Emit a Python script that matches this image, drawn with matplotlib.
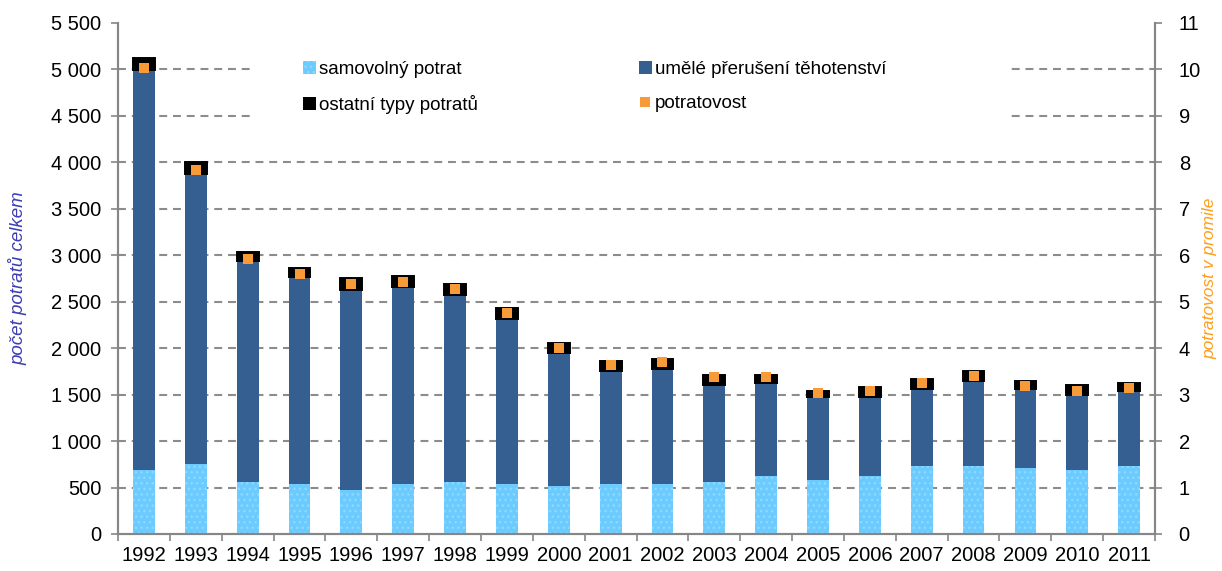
import matplotlib.pyplot as plt
from matplotlib.lines import Line2D
from matplotlib.patches import Patch, Rectangle
from matplotlib.ticker import FuncFormatter, MultipleLocator

plt.rcParams['font.family'] = ['Liberation Sans', 'DejaVu Sans']

years = [str(y) for y in range(1992, 2012)]
samovolny = [685, 749, 556, 535, 471, 535, 556, 535, 514, 535,
             535, 556, 621, 578, 621, 728, 728, 706, 685, 728]
umele = [4304, 3121, 2376, 2226, 2158, 2119, 2012, 1776, 1433, 1220,
         1238, 1049, 1005, 899, 856, 834, 920, 856, 813, 813]
ostatni = [126, 127, 104, 103, 128, 125, 125, 121, 104, 103,
           107, 104, 86, 61, 103, 104, 104, 83, 104, 82]
potratovost = [10.02, 7.82, 5.92, 5.60, 5.37, 5.42, 5.27, 4.75, 4.01, 3.64,
               3.70, 3.38, 3.38, 3.03, 3.08, 3.25, 3.40, 3.18, 3.07, 3.13]

c_samo = '#6BCBFF'
c_umele = '#355F91'
c_ost = '#000000'
c_rate = '#F99A38'
c_axis = '#868686'

fig = plt.figure(figsize=(12.22, 5.71), dpi=100)
ax = fig.add_axes([0.0966, 0.0648, 0.8486, 0.8956])
ax2 = ax.twinx()

x = list(range(len(years)))
w = 0.42
bottom2 = [a + b for a, b in zip(samovolny, umele)]

ax.bar(x, samovolny, w, color=c_samo, hatch='...', edgecolor='#8FD9FF',
       linewidth=0, zorder=2)
ax.bar(x, umele, w, bottom=samovolny, color=c_umele, linewidth=0, zorder=2)
ax.bar(x, ostatni, w, bottom=bottom2, color=c_ost, edgecolor=c_ost,
       linewidth=1.4, zorder=2)

ax2.plot(x, potratovost, linestyle='none', marker='s', markersize=7.2,
         color=c_rate, markeredgewidth=0, zorder=3)

# axes and ticks
ax.set_xlim(-0.5, len(years) - 0.5)
ax.set_ylim(0, 5500)
ax2.set_ylim(0, 11)
ax.yaxis.set_major_locator(MultipleLocator(500))
ax2.yaxis.set_major_locator(MultipleLocator(1))
ax.yaxis.set_major_formatter(FuncFormatter(lambda v, p: f"{int(v):,}".replace(',', ' ')))

ax.set_xticks(x)
ax.set_xticklabels(years)
ax.set_xticks([i - 0.5 for i in range(len(years) + 1)], minor=True)
ax.tick_params(axis='x', which='major', length=0, labelsize=14.5, pad=9)
ax.tick_params(axis='x', which='minor', length=5, color=c_axis, width=1.2)
ax.tick_params(axis='y', length=5, color=c_axis, width=1.2, labelsize=14.5, pad=7)
ax2.tick_params(axis='y', length=5, color=c_axis, width=1.2, labelsize=14.5, pad=12)

for a in (ax, ax2):
    a.spines['top'].set_visible(False)
    for side in ('left', 'right', 'bottom'):
        a.spines[side].set_color(c_axis)
        a.spines[side].set_linewidth(1.5)

# dashed grid, without a line on the top value
ax.set_axisbelow(True)
for yv in range(500, 5500, 500):
    ax.axhline(yv, color='#8C8C8C', linewidth=1.5, linestyle=(0, (3.8, 2.8)), zorder=0.5)

ax.set_ylabel('počet potratů celkem', color='#3D3DB8', fontsize=13.5, style='italic')
ax.yaxis.set_label_coords(-0.087, 0.5)
ax2.set_ylabel('potratovost v promile', color='#FF9E1B', fontsize=12.5, style='italic')
ax2.yaxis.set_label_coords(1.046, 0.5)

# white area behind legend
ax.add_patch(Rectangle((0.132, 0.81), 0.728, 0.19, transform=ax.transAxes,
                       facecolor='white', edgecolor='none', zorder=1))

handles = [
    Patch(facecolor=c_samo, hatch='...', edgecolor='#8FD9FF', linewidth=0),
    Patch(facecolor=c_ost),
    Patch(facecolor=c_umele),
    Line2D([], [], linestyle='none', marker='s', markersize=6.5, color=c_rate,
           markeredgewidth=0),
]
labels = ['samovolný potrat', 'ostatní typy potratů',
          'umělé přerušení těhotenství', 'potratovost']
ax2.legend(handles, labels, ncol=2, loc='upper left', bbox_to_anchor=(0.178, 0.925),
           frameon=False, fontsize=13.5, handlelength=0.7, handleheight=0.7,
           handletextpad=0.15, labelspacing=0.92, columnspacing=8.6,
           borderpad=0, borderaxespad=0)

fig.savefig('out.png', dpi=100)
